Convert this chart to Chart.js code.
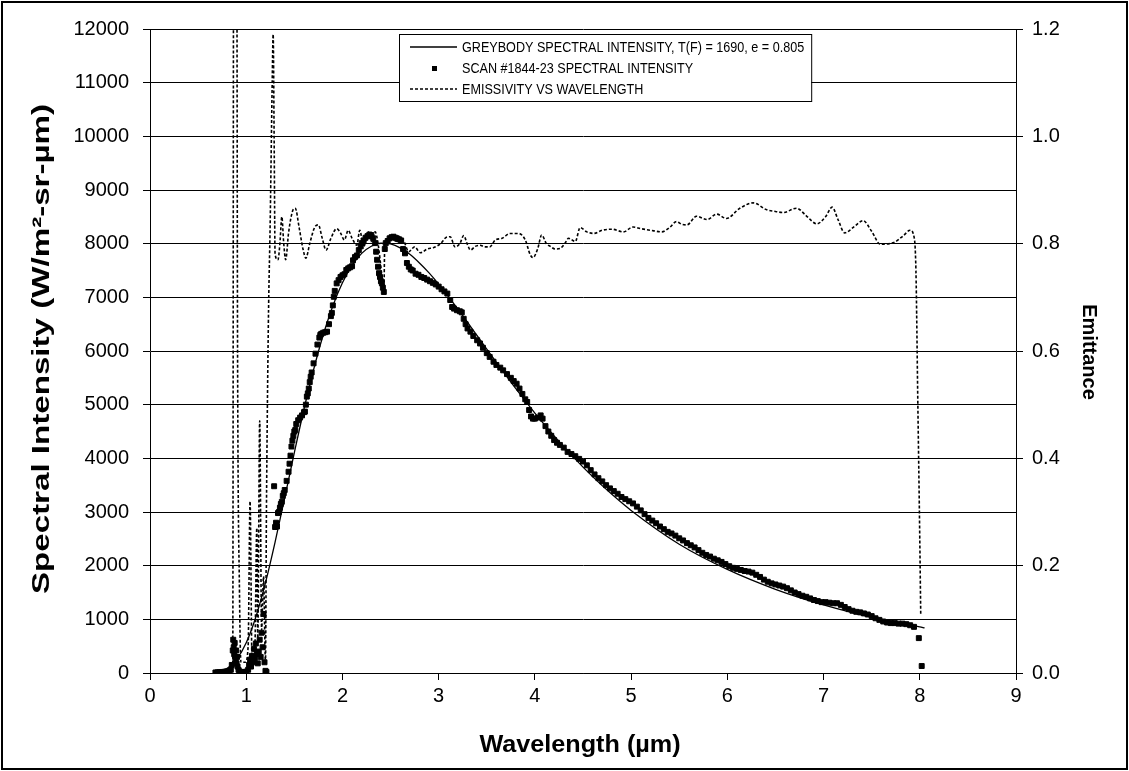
<!DOCTYPE html>
<html>
<head>
<meta charset="utf-8">
<script src="https://cdn.jsdelivr.net/npm/chart.js@4.4.0/dist/chart.umd.min.js"></script>
<style>
  html, body { margin: 0; padding: 0; background: #fff; }
  canvas { display: block; }
</style>
</head>
<body>
<canvas id="chart" width="1129" height="771"></canvas>
<script>
// GREYBODY CURVE [wavelength um, W/m2-sr-um]
const greybody = [
  [0.68,12],[0.8,84],[0.9,249],[1.0,562],[1.1,1043],[1.2,1683],[1.3,2440],[1.4,3266],[1.5,4105],
  [1.6,4915],[1.7,5651],[1.8,6298],[1.9,6840],[2.0,7271],[2.1,7594],[2.2,7819],[2.3,7952],[2.4,8008],
  [2.5,7994],[2.6,7921],[2.7,7801],[2.8,7640],[2.9,7456],[3.0,7245],[3.2,6779],[3.4,6286],[3.6,5787],
  [3.8,5302],[4.0,4844],[4.2,4417],[4.4,4022],[4.6,3659],[4.8,3329],[5.0,3029],[5.5,2400],[6.0,1930],
  [6.5,1560],[7.0,1270],[7.5,1040],[8.0,860],[8.05,840]
];

// SCAN #1844-23 [wavelength um, W/m2-sr-um]
const scan = [
  [0.68,10],[0.70,12],[0.72,15],[0.74,18],[0.76,20],[0.78,25],[0.80,30],[0.82,40],[0.84,60],
  [0.85,150],[0.86,420],[0.865,620],[0.87,480],[0.875,350],[0.88,560],[0.885,300],[0.89,250],
  [0.895,420],[0.90,180],[0.905,300],[0.91,120],[0.92,60],[0.93,30],[0.94,20],[0.96,15],[0.98,20],
  [1.00,25],[1.02,60],[1.03,150],[1.04,250],[1.05,120],[1.06,320],[1.07,200],[1.08,450],[1.09,280],
  [1.10,550],[1.11,350],[1.12,180],[1.13,400],[1.14,620],[1.15,300],[1.16,750],[1.17,480],[1.18,1100],
  [1.19,200],[1.20,40],[1.21,20],
  [1.29,3480],[1.30,2720],[1.31,2800],[1.32,2730],[1.33,2980],[1.34,3000],[1.35,3080],[1.36,3150],
  [1.37,3190],[1.38,3300],[1.39,3350],[1.40,3410],[1.42,3580],[1.44,3750],[1.45,3900],[1.46,4050],
  [1.47,4220],[1.48,4330],[1.49,4420],[1.50,4500],[1.51,4530],[1.52,4640],[1.54,4710],[1.56,4760],
  [1.58,4800],[1.60,4860],[1.61,4870],[1.62,5000],[1.63,5150],[1.64,5210],[1.65,5300],[1.66,5420],
  [1.67,5520],[1.68,5600],[1.70,5770],[1.72,5950],[1.74,6120],[1.76,6250],[1.77,6300],[1.78,6320],
  [1.80,6340],[1.82,6350],[1.84,6360],[1.86,6500],[1.88,6650],[1.89,6710],[1.90,6850],[1.91,7010],
  [1.92,7120],[1.94,7260],[1.96,7320],[1.98,7380],[2.00,7410],[2.02,7430],[2.04,7510],[2.06,7540],
  [2.08,7560],[2.10,7580],[2.11,7690],[2.13,7750],[2.15,7780],[2.17,7880],[2.19,7950],[2.20,8010],
  [2.22,8060],[2.24,8110],[2.26,8140],[2.28,8170],[2.30,8160],[2.32,8100],[2.34,8010],[2.35,7850],
  [2.36,7700],[2.37,7570],[2.38,7450],[2.39,7380],[2.40,7300],[2.41,7260],[2.42,7180],[2.43,7100],
  [2.44,7900],[2.45,8010],[2.47,8050],[2.49,8100],[2.51,8120],[2.53,8130],[2.55,8110],[2.57,8090],
  [2.59,8080],[2.61,8060],[2.63,7900],[2.65,7820],[2.67,7640],[2.69,7570],[2.71,7520],[2.73,7500],
  [2.76,7440],[2.79,7420],[2.82,7380],[2.85,7360],[2.88,7330],[2.91,7300],[2.94,7270],[2.97,7240],
  [3.00,7200],[3.03,7150],[3.06,7110],[3.09,7070],[3.12,6950],[3.14,6820],[3.16,6790],[3.19,6760],
  [3.22,6740],[3.24,6720],[3.26,6600],[3.28,6500],[3.30,6420],[3.33,6360],[3.36,6280],[3.40,6200],
  [3.43,6140],[3.46,6060],[3.50,5960],[3.53,5890],[3.57,5800],[3.60,5740],[3.64,5690],[3.67,5640],
  [3.71,5570],[3.75,5500],[3.78,5440],[3.81,5390],[3.84,5300],[3.87,5200],[3.90,5100],[3.92,5050],
  [3.94,4900],[3.96,4780],[3.98,4740],[4.00,4740],[4.03,4760],[4.06,4800],[4.08,4740],[4.11,4600],
  [4.14,4500],[4.17,4420],[4.20,4340],[4.23,4290],[4.26,4250],[4.30,4200],[4.34,4120],[4.38,4080],
  [4.42,4040],[4.46,3990],[4.50,3940],[4.54,3870],[4.58,3780],[4.62,3700],[4.66,3630],[4.70,3570],
  [4.74,3500],[4.78,3440],[4.82,3390],[4.86,3340],[4.90,3280],[4.94,3240],[4.98,3200],[5.02,3160],
  [5.06,3100],[5.10,3030],[5.14,2960],[5.18,2890],[5.22,2840],[5.26,2790],[5.30,2730],[5.34,2680],
  [5.38,2630],[5.42,2600],[5.46,2560],[5.50,2510],[5.54,2470],[5.58,2420],[5.62,2380],[5.66,2340],
  [5.70,2290],[5.74,2240],[5.78,2200],[5.82,2170],[5.86,2130],[5.90,2100],[5.94,2070],[5.98,2030],
  [6.02,1990],[6.06,1960],[6.10,1940],[6.14,1920],[6.18,1900],[6.22,1890],[6.26,1870],[6.30,1830],
  [6.34,1790],[6.38,1740],[6.42,1700],[6.46,1670],[6.50,1650],[6.54,1630],[6.58,1610],[6.62,1580],
  [6.66,1540],[6.70,1500],[6.74,1470],[6.78,1440],[6.82,1420],[6.86,1390],[6.90,1360],[6.94,1340],
  [6.98,1320],[7.02,1320],[7.06,1310],[7.10,1300],[7.14,1300],[7.18,1270],[7.22,1230],[7.26,1190],
  [7.30,1160],[7.34,1140],[7.38,1130],[7.42,1110],[7.46,1090],[7.50,1060],[7.54,1020],[7.58,990],
  [7.62,960],[7.66,940],[7.70,930],[7.74,930],[7.78,920],[7.82,920],[7.86,910],[7.90,890],
  [7.94,860],[7.99,650],[8.02,130]
];

// EMISSIVITY [wavelength um, emittance]
const emissivity = [
  [0.84,0.00],[0.86,0.02],[0.87,1.50],[0.90,1.50],[0.91,0.60],[0.93,0.15],[0.945,0.02],[0.99,0.02],
  [1.02,0.05],[1.04,0.32],[1.06,0.03],[1.09,0.05],[1.11,0.27],[1.12,0.06],[1.14,0.47],[1.16,0.08],
  [1.18,0.18],[1.20,0.02],[1.21,0.30],[1.23,0.65],[1.25,0.85],[1.27,1.10],[1.28,1.19],[1.29,1.00],
  [1.30,0.78],[1.33,0.77],[1.35,0.80],[1.37,0.85],[1.39,0.80],[1.41,0.77],[1.44,0.82],[1.48,0.86],
  [1.51,0.866],[1.55,0.83],[1.59,0.79],[1.62,0.773],[1.66,0.80],[1.71,0.83],[1.75,0.835],[1.79,0.81],
  [1.83,0.788],[1.88,0.81],[1.94,0.828],[1.98,0.82],[2.02,0.807],[2.06,0.825],[2.10,0.81],[2.15,0.797],
  [2.18,0.825],[2.22,0.794],[2.27,0.822],[2.30,0.804],[2.34,0.822],[2.37,0.80],[2.41,0.74],[2.43,0.707],
  [2.44,0.80],[2.47,0.808],[2.51,0.814],[2.56,0.815],[2.60,0.812],[2.64,0.804],[2.69,0.785],[2.72,0.79],
  [2.75,0.794],[2.81,0.783],[2.88,0.79],[2.95,0.793],[3.02,0.80],[3.08,0.812],[3.12,0.813],[3.17,0.794],
  [3.22,0.80],[3.26,0.815],[3.30,0.798],[3.33,0.788],[3.38,0.795],[3.43,0.797],[3.48,0.794],[3.53,0.794],
  [3.59,0.807],[3.66,0.81],[3.74,0.819],[3.83,0.819],[3.90,0.807],[3.95,0.78],[3.98,0.774],[4.03,0.791],
  [4.07,0.816],[4.12,0.80],[4.16,0.795],[4.21,0.79],[4.26,0.791],[4.31,0.80],[4.35,0.81],[4.42,0.804],
  [4.47,0.83],[4.54,0.822],[4.61,0.819],[4.70,0.825],[4.80,0.827],[4.92,0.822],[5.02,0.831],[5.10,0.828],
  [5.20,0.825],[5.32,0.822],[5.40,0.83],[5.47,0.841],[5.53,0.836],[5.58,0.835],[5.68,0.851],[5.79,0.845],
  [5.89,0.855],[5.99,0.847],[6.13,0.866],[6.27,0.876],[6.41,0.863],[6.50,0.86],[6.58,0.858],[6.72,0.866],
  [6.82,0.852],[6.93,0.837],[7.02,0.85],[7.09,0.868],[7.15,0.845],[7.22,0.82],[7.32,0.832],[7.41,0.843],
  [7.50,0.823],[7.59,0.799],[7.73,0.802],[7.83,0.815],[7.90,0.825],[7.94,0.813],[7.96,0.75],[7.98,0.50],
  [8.00,0.25],[8.01,0.108]
];

const seriesLabels = [
  "GREYBODY SPECTRAL INTENSITY, T(F) = 1690, e = 0.805",
  "SCAN #1844-23 SPECTRAL INTENSITY",
  "EMISSIVITY VS WAVELENGTH"
];
const xTitle = "Wavelength (µm)";
const yTitle = "Spectral Intensity (W/m²-sr-µm)";
const y2Title = "Emittance";

const toXY = arr => arr.map(p => ({x: p[0], y: p[1]}));
const FONT = "'Liberation Sans', Arial, sans-serif";

Chart.defaults.font.family = FONT;
Chart.defaults.color = "#000";

// FUNDO BRANCO + MOLDURA
const frame = {
  id: "frame",
  beforeDraw(chart) {
    const c = chart.ctx;
    c.save();
    c.fillStyle = "#fff";
    c.fillRect(0, 0, chart.width, chart.height);
    c.restore();
  },
  afterDraw(chart) {
    const c = chart.ctx;
    c.save();
    c.strokeStyle = "#000";
    c.lineWidth = 2;
    c.strokeRect(2, 2, chart.width - 4, chart.height - 4);
    c.restore();
  }
};

// TITULOS DOS EIXOS (texto esticado como no original)
function drawText(c, txt, x, y, rot, sx, font) {
  c.save();
  c.translate(x, y);
  c.rotate(rot);
  c.scale(sx, 1);
  c.font = font;
  c.textAlign = "center";
  c.textBaseline = "middle";
  c.fillText(txt, 0, 0);
  c.restore();
}
const axisTitles = {
  id: "axisTitles",
  afterDraw(chart) {
    const c = chart.ctx, a = chart.chartArea;
    c.save();
    c.fillStyle = "#000";
    drawText(c, yTitle, 42, 349, -Math.PI / 2, 1.38, "bold 24px " + FONT);
    drawText(c, xTitle, (a.left + a.right) / 2 - 3, 745, 0, 1.05, "bold 24px " + FONT);
    drawText(c, y2Title, 1089, 352, Math.PI / 2, 1, "bold 20px " + FONT);
    c.restore();
  }
};

// LEGENDA COM CAIXA
const boxLegend = {
  id: "boxLegend",
  afterDatasetsDraw(chart) {
    const c = chart.ctx;
    const sets = chart.data.datasets;
    const sx = 0.9;
    c.save();
    c.font = "14px " + FONT;
    let w = 0;
    sets.forEach(d => { w = Math.max(w, c.measureText(d.label).width * sx); });
    const x0 = 399, y0 = 34, rowH = 21;
    const boxW = 63 + w + 7, boxH = rowH * sets.length + 4;
    c.fillStyle = "#fff";
    c.fillRect(x0, y0, boxW, boxH);
    c.strokeStyle = "#000";
    c.lineWidth = 1;
    c.strokeRect(x0 + 0.5, y0 + 0.5, boxW, boxH);
    sets.forEach((d, i) => {
      const cy = y0 + 13 + i * rowH;
      c.strokeStyle = "#000";
      c.fillStyle = "#000";
      if (i === 1) {
        c.fillRect(x0 + 33, cy - 2, 5, 5);
      } else {
        c.lineWidth = i === 0 ? 1.3 : 1.6;
        c.setLineDash(i === 0 ? [] : [3, 2]);
        c.beginPath();
        c.moveTo(x0 + 11, cy);
        c.lineTo(x0 + 58, cy);
        c.stroke();
        c.setLineDash([]);
      }
      c.save();
      c.translate(x0 + 63, cy + 1);
      c.scale(sx, 1);
      c.textBaseline = "middle";
      c.fillText(d.label, 0, 0);
      c.restore();
    });
    c.restore();
  }
};

const ctx = document.getElementById("chart").getContext("2d");
new Chart(ctx, {
  type: "line",
  data: {
    datasets: [
      {
        label: seriesLabels[0], data: toXY(greybody), yAxisID: "y",
        borderColor: "#000", borderWidth: 1.3, pointRadius: 0,
        cubicInterpolationMode: "monotone", order: 1
      },
      {
        label: seriesLabels[1], data: toXY(scan), yAxisID: "y",
        showLine: false, pointStyle: "rect", pointRadius: 3.5,
        pointBackgroundColor: "#000", pointBorderColor: "#000", pointBorderWidth: 1, order: 2
      },
      {
        label: seriesLabels[2], data: toXY(emissivity), yAxisID: "y2",
        borderColor: "#000", borderWidth: 1.6, borderDash: [3, 2], pointRadius: 0,
        cubicInterpolationMode: "monotone", order: 0
      }
    ]
  },
  options: {
    responsive: false,
    animation: false,
    layout: { padding: { top: 29 } },
    plugins: { legend: { display: false }, tooltip: { enabled: false } },
    scales: {
      x: {
        type: "linear", min: 0, max: 9,
        ticks: { stepSize: 1, font: { size: 20 }, padding: 4, callback: v => String(v) },
        grid: { drawOnChartArea: false, tickLength: 7, color: "#000" },
        border: { color: "#000" },
        afterFit: s => { s.height = 98; }
      },
      y: {
        position: "left", min: 0, max: 12000,
        ticks: { stepSize: 1000, font: { size: 20 }, padding: 14, callback: v => String(v) },
        grid: { color: "#000", tickLength: 7 },
        border: { color: "#000" },
        afterFit: s => { s.width = 150; }
      },
      y2: {
        position: "right", min: 0, max: 1.2,
        ticks: { stepSize: 0.2, font: { size: 20 }, padding: 9, callback: v => v.toFixed(1) },
        grid: { drawOnChartArea: false, color: "#000", tickLength: 7 },
        border: { color: "#000" },
        afterFit: s => { s.width = 113; }
      }
    }
  },
  plugins: [frame, axisTitles, boxLegend]
});
</script>
</body>
</html>
